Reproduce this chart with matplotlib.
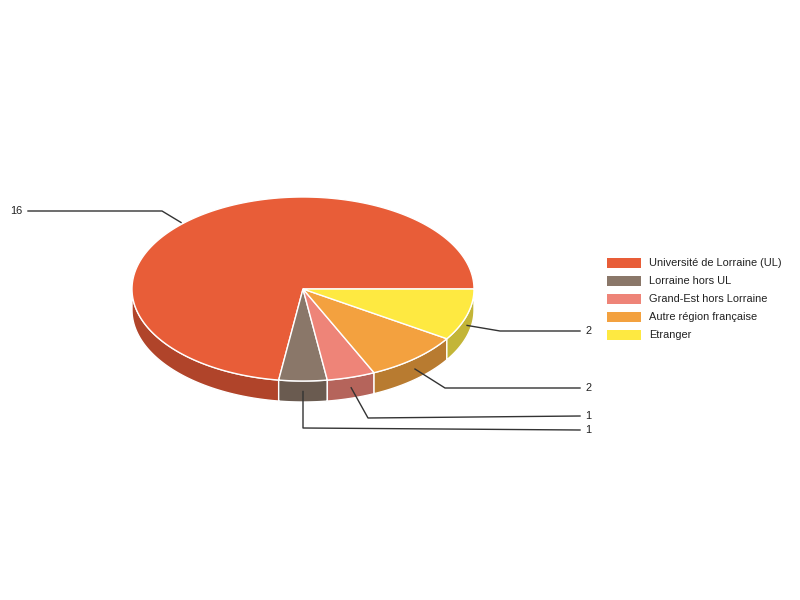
import numpy as np
import matplotlib
matplotlib.use("Agg")
import matplotlib.pyplot as plt
from matplotlib.patches import Polygon, Rectangle

categories = ["Université de Lorraine (UL)", "Lorraine hors UL", "Grand-Est hors Lorraine",
              "Autre région française", "Etranger"]
values = [16, 1, 1, 2, 2]
top_colors = ["#E85D38", "#8A7769", "#EE8478", "#F3A13F", "#FEE941"]
side_colors = ["#B0442A", "#6A5B50", "#B5645B", "#B87B30", "#C3B537"]

plt.rcParams['font.family'] = ['Liberation Sans', 'DejaVu Sans']

fig = plt.figure(figsize=(8, 6), dpi=100)
ax = fig.add_axes([0, 0, 1, 1])
ax.set_xlim(0, 800)
ax.set_ylim(600, 0)
ax.axis('off')

cx, cy, rx, ry, depth = 303, 289, 171, 92, 21

def pt(theta, dy=0.0):
    return cx + rx * np.cos(theta), cy - ry * np.sin(theta) + dy

total = sum(values)
bounds = np.concatenate([[0], np.cumsum(values)]) / total * 2 * np.pi

# side faces (visible for angles between pi and 2pi)
for i in range(len(values)):
    a0, a1 = bounds[i], bounds[i + 1]
    s0, s1 = max(a0, np.pi), min(a1, 2 * np.pi)
    if s1 > s0:
        t = np.linspace(s0, s1, 100)
        xs, ys = pt(t)
        upper = np.column_stack([xs, ys])
        lower = np.column_stack([xs[::-1], ys[::-1] + depth])
        ax.add_patch(Polygon(np.vstack([upper, lower]), closed=True,
                             facecolor=side_colors[i], edgecolor='white', lw=1, zorder=1))

# top faces
for i in range(len(values)):
    a0, a1 = bounds[i], bounds[i + 1]
    t = np.linspace(a0, a1, 200)
    xs, ys = pt(t)
    poly = np.vstack([[cx, cy], np.column_stack([xs, ys])])
    ax.add_patch(Polygon(poly, closed=True, facecolor=top_colors[i],
                         edgecolor='white', lw=1, joinstyle='miter', zorder=2))

# leader lines and labels
label_y = [211, 430, 416, 388, 331]
knee_x = [162, None, 368, 445, 500]
fs = 7.9
for i in range(len(values)):
    mid = (bounds[i] + bounds[i + 1]) / 2
    if np.pi < mid < 2 * np.pi:
        ax_, ay_ = pt(mid, depth / 2)
    else:
        ax_, ay_ = pt(mid)
        ax_ -= 10
        ay_ += 3
    ly = label_y[i]
    if ax_ < cx - 20:
        xs = [ax_, knee_x[i], 28]
        ys = [ay_, ly, ly]
        ax.plot(xs, ys, color='#333333', lw=1, zorder=3)
        ax.text(22, ly, str(values[i]), ha='right', va='center', fontsize=fs, color='#222222')
    else:
        if knee_x[i] is None:
            xs = [ax_, ax_, 580]
            ys = [ay_, ly - 2, ly]
        else:
            xs = [ax_, knee_x[i], 580]
            ys = [ay_, ly + (2 if i == 2 else 0), ly]
        ax.plot(xs, ys, color='#333333', lw=1, zorder=3)
        ax.text(585, ly, str(values[i]), ha='left', va='center', fontsize=fs, color='#222222')

# legend
leg_y = [263, 281, 299, 317, 335]
for i, name in enumerate(categories):
    ax.add_patch(Rectangle((607, leg_y[i] - 5), 34, 10, facecolor=top_colors[i],
                           edgecolor='none', zorder=3))
    ax.text(649, leg_y[i], name, ha='left', va='center', fontsize=fs, color='#222222')

fig.savefig("out.png", dpi=100)
